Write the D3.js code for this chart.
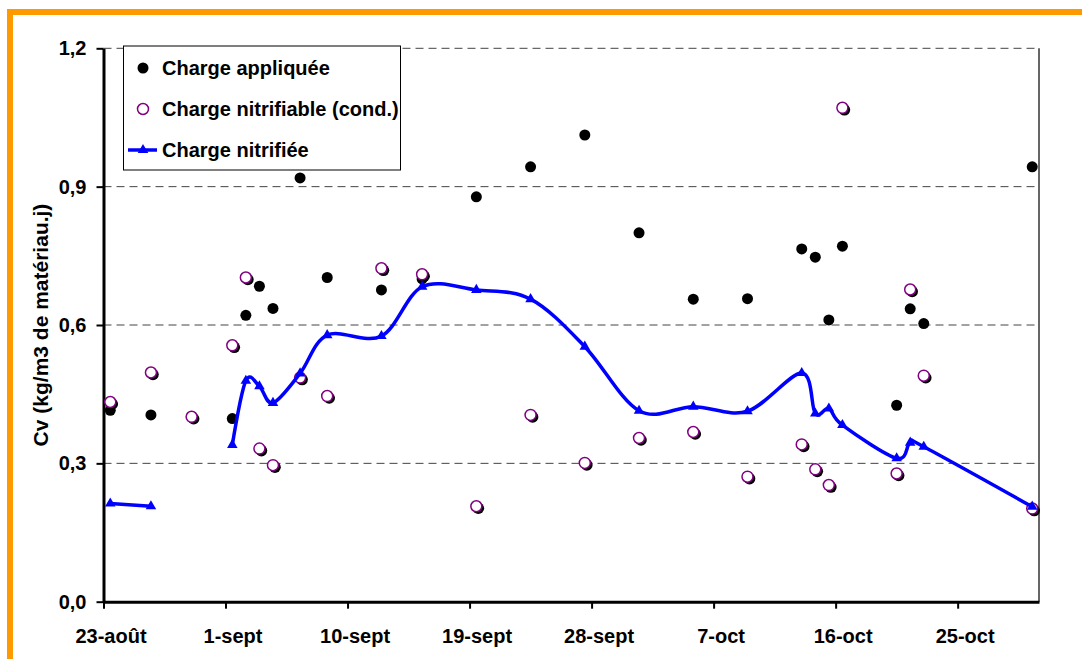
<!DOCTYPE html>
<html><head><meta charset="utf-8">
<script src="https://cdn.jsdelivr.net/npm/d3@7"></script>
<style>
body{margin:0;background:#fff;}
svg{display:block;font-family:"Liberation Sans",Arial,sans-serif;font-weight:bold;}
</style></head>
<body><svg id="c" width="1082" height="659"></svg>
<script>
// ---- data ----
const dates = ["2004-08-23","2004-08-26","2004-08-29","2004-09-01","2004-09-02","2004-09-03","2004-09-04","2004-09-06","2004-09-08","2004-09-12","2004-09-15","2004-09-19","2004-09-23","2004-09-27","2004-10-01","2004-10-05","2004-10-09","2004-10-13","2004-10-14","2004-10-15","2004-10-16","2004-10-20","2004-10-21","2004-10-22","2004-10-30"];
const chargeAppliquee = [0.415,0.405,null,0.397,0.621,0.684,0.636,0.919,0.703,0.676,0.700,0.878,0.943,1.012,0.800,0.656,0.657,0.765,0.747,0.611,0.771,0.426,0.635,0.603,0.943];
const chargeNitrifiable = [0.433,0.497,0.401,0.556,0.703,0.332,0.296,0.486,0.446,0.723,0.710,0.207,0.405,0.301,0.355,0.368,0.271,0.341,0.287,0.253,1.071,0.278,0.677,0.490,0.202];
const chargeNitrifiee = [0.213,0.207,null,0.340,0.479,0.467,0.431,0.495,0.578,0.576,0.683,0.676,0.656,0.553,0.414,0.423,0.413,0.496,0.408,0.419,0.383,0.311,0.345,0.336,0.206];
const seriesNames = ["Charge appliquée","Charge nitrifiable (cond.)","Charge nitrifiée"];
const xTickDates = ["2004-08-23","2004-09-01","2004-09-10","2004-09-19","2004-09-28","2004-10-07","2004-10-16","2004-10-25"];
const xTickLabels = ["23-août","1-sept","10-sept","19-sept","28-sept","7-oct","16-oct","25-oct"];
const yTicks = [0,0.3,0.6,0.9,1.2];
const yTitle = "Cv (kg/m3 de matériau.j)";

// ---- setup ----
const svg = d3.select("#c");
const parse = s => new Date(s + "T00:00:00");
const noon = s => new Date(s + "T12:00:00");
const L = 103.5, R = 1039, T = 48.3, B = 601.7;
const x = d3.scaleTime().domain([parse("2004-08-23"), parse("2004-10-31")]).range([L, R]);
const y = d3.scaleLinear().domain([0, 1.2]).range([B, T]);

// orange frame
svg.append("rect").attr("x", 10).attr("y", 12).attr("width", 1200).attr("height", 800)
  .attr("fill", "none").attr("stroke", "#FF9900").attr("stroke-width", 6);

// gridlines
svg.append("g").selectAll("line").data(yTicks.filter(d => d > 0)).join("line")
  .attr("x1", L).attr("x2", R).attr("y1", d => y(d)).attr("y2", d => y(d))
  .attr("stroke", "#444").attr("stroke-width", 1).attr("stroke-dasharray", "8,5");
// right border of plot
svg.append("line").attr("x1", R).attr("x2", R).attr("y1", T).attr("y2", B)
  .attr("stroke", "#333").attr("stroke-width", 1.5);

// axes
const fmtY = d => d3.format(".1f")(d).replace(".", ",");
const yAxis = svg.append("g").attr("transform", `translate(${L},0)`)
  .call(d3.axisLeft(y).tickValues(yTicks).tickFormat(fmtY).tickSize(7).tickSizeOuter(0).tickPadding(10));
yAxis.select(".domain").attr("stroke", "#000").attr("stroke-width", 3);
yAxis.selectAll(".tick line").attr("stroke", "#000").attr("stroke-width", 2);
yAxis.selectAll("text").attr("font-size", 20).attr("font-weight", "bold").attr("fill", "#000")
  .attr("font-family", '"Liberation Sans",Arial,sans-serif');

const xAxis = svg.append("g").attr("transform", `translate(0,${B})`)
  .call(d3.axisBottom(x).tickValues(xTickDates.map(parse))
    .tickFormat((d, i) => xTickLabels[i]).tickSize(7).tickSizeOuter(0).tickPadding(20));
xAxis.select(".domain").attr("stroke", "#000").attr("stroke-width", 3);
xAxis.selectAll(".tick line").attr("stroke", "#000").attr("stroke-width", 2);
xAxis.selectAll("text").attr("font-size", 20).attr("font-weight", "bold").attr("fill", "#000")
  .attr("x", 7).attr("font-family", '"Liberation Sans",Arial,sans-serif');

// y title
svg.append("text").attr("transform", `translate(40,${(T + B) / 2}) rotate(-90)`)
  .attr("text-anchor", "middle").attr("dominant-baseline", "central")
  .attr("font-size", 21).attr("fill", "#000").text(yTitle);

// ---- series 1: black dots ----
const d1 = dates.map((d, i) => ({ t: noon(d), v: chargeAppliquee[i] })).filter(d => d.v != null);
svg.append("g").selectAll("circle").data(d1).join("circle")
  .attr("cx", d => x(d.t)).attr("cy", d => y(d.v)).attr("r", 5.5).attr("fill", "#000");

// ---- series 2: open circles with shadow ----
const d2 = dates.map((d, i) => ({ t: noon(d), v: chargeNitrifiable[i] })).filter(d => d.v != null);
const g2 = svg.append("g");
g2.selectAll("circle.sh").data(d2).join("circle").attr("class", "sh")
  .attr("cx", d => x(d.t) + 2).attr("cy", d => y(d.v) + 2).attr("r", 5.8).attr("fill", "#000");
g2.selectAll("circle.o").data(d2).join("circle").attr("class", "o")
  .attr("cx", d => x(d.t)).attr("cy", d => y(d.v)).attr("r", 5.5)
  .attr("fill", "#fff").attr("stroke", "#800080").attr("stroke-width", 1.5);

// ---- series 3: smoothed blue line with triangles ----
const d3s = dates.map((d, i) => ({ t: noon(d), v: chargeNitrifiee[i] }));
const line = d3.line().defined(d => d.v != null).x(d => x(d.t)).y(d => y(d.v))
  .curve(d3.curveCardinal.tension(0));
svg.append("path").datum(d3s).attr("d", line).attr("fill", "none")
  .attr("stroke", "#0000FF").attr("stroke-width", 3.5).attr("stroke-linejoin", "round");
const tri = d3.symbol().type(d3.symbolTriangle).size(48);
svg.append("g").selectAll("path").data(d3s.filter(d => d.v != null)).join("path")
  .attr("transform", d => `translate(${x(d.t)},${y(d.v)})`).attr("d", tri).attr("fill", "#0000FF");

// ---- legend ----
const lg = svg.append("g");
lg.append("rect").attr("x", 123.5).attr("y", 46).attr("width", 277).attr("height", 124)
  .attr("fill", "#fff").attr("stroke", "#000").attr("stroke-width", 1);
const ly = [68, 109, 150];
lg.append("circle").attr("cx", 143).attr("cy", ly[0]).attr("r", 5.5).attr("fill", "#000");
lg.append("circle").attr("cx", 143).attr("cy", ly[1]).attr("r", 5.5).attr("fill", "#fff")
  .attr("stroke", "#800080").attr("stroke-width", 1.5);
lg.append("line").attr("x1", 128).attr("x2", 157).attr("y1", ly[2]).attr("y2", ly[2])
  .attr("stroke", "#0000FF").attr("stroke-width", 3.5);
lg.append("path").attr("transform", `translate(143,${ly[2]})`).attr("d", tri).attr("fill", "#0000FF");
lg.selectAll("text").data(seriesNames).join("text")
  .attr("x", 162).attr("y", (d, i) => ly[i]).attr("dominant-baseline", "central")
  .attr("font-size", 20).attr("fill", "#000").text(d => d);
</script></body></html>
